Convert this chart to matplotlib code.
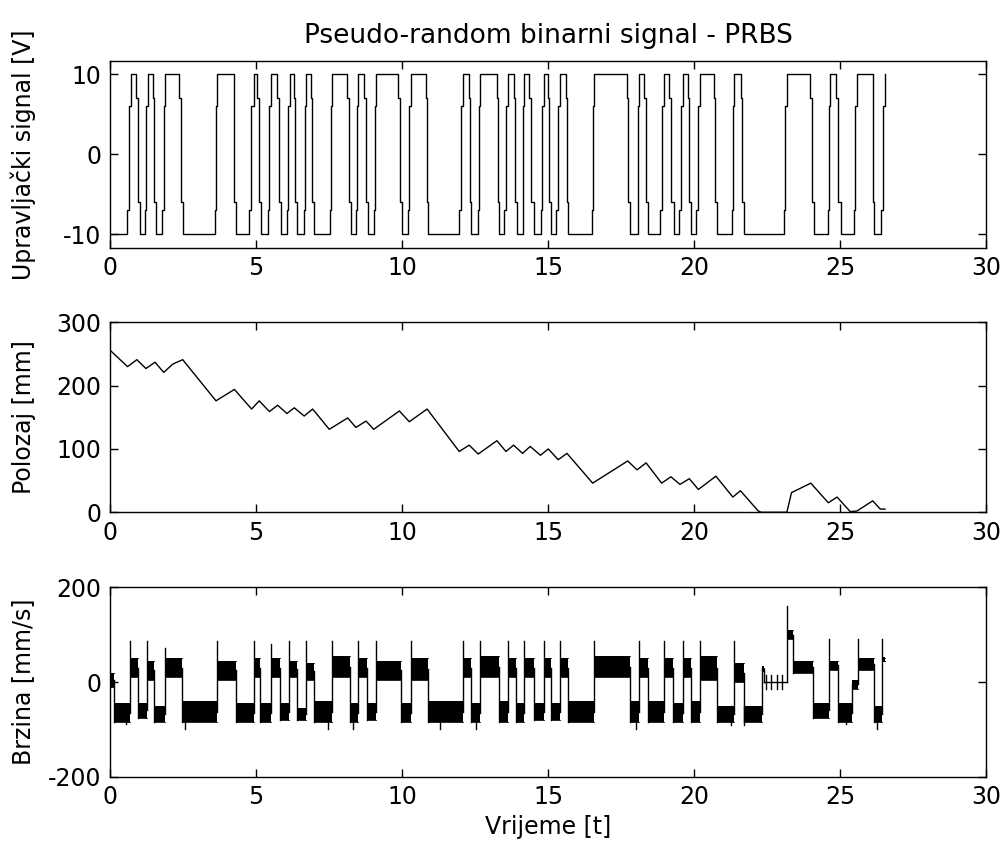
import matplotlib
matplotlib.use("Agg")
import matplotlib.pyplot as plt
import numpy as np

plt.rcParams["font.family"] = ["DejaVu Sans"]
plt.rcParams["font.size"] = 17
plt.rcParams["axes.unicode_minus"] = False
plt.rcParams["hatch.linewidth"] = 1.0

# ── PRBS: edge start / end times (s), signal toggles between -10 and +10 ──
prbs_start_level = -10
prbs_edge_t0 = [0.58, 0.90, 1.20, 1.46, 1.79, 2.37, 3.61, 4.23, 4.75, 5.05,
                5.40, 5.72, 6.06, 6.29, 6.64, 6.88, 7.52, 8.12, 8.44, 8.71,
                9.05, 9.88, 10.20, 10.82, 11.96, 12.30, 12.61, 13.25, 13.50, 13.82,
                14.13, 14.36, 14.76, 14.99, 15.27, 15.62, 16.50, 17.70, 18.07, 18.30,
                18.84, 19.15, 19.50, 19.78, 20.07, 20.70, 21.29, 21.60, 23.09, 23.98,
                24.60, 24.86, 25.49, 26.12, 26.40]
prbs_edge_t1 = [0.72, 1.03, 1.29, 1.58, 1.90, 2.51, 3.68, 4.31, 4.94, 5.17,
                5.53, 5.86, 6.15, 6.42, 6.70, 6.99, 7.60, 8.25, 8.50, 8.82,
                9.12, 10.00, 10.30, 10.90, 12.10, 12.38, 12.68, 13.33, 13.62, 13.93,
                14.19, 14.53, 14.85, 15.10, 15.42, 15.70, 16.59, 17.82, 18.12, 18.41,
                18.98, 19.30, 19.64, 19.90, 20.22, 20.78, 21.38, 21.72, 23.18, 24.12,
                24.66, 25.03, 25.57, 26.17, 26.54]
t_end = 26.55

# ── Polozaj (mm) ──
pos_t = [0, 0.07, 0.6, 0.92, 1.23, 1.54, 1.84, 2.15, 2.49, 3.63, 4.26, 4.85, 5.11,
         5.46, 5.74, 6.06, 6.31, 6.65, 6.94, 7.51, 8.14, 8.42, 8.77, 9.03, 9.91,
         10.25, 10.86, 11.96, 12.3, 12.61, 13.25, 13.56, 13.82, 14.13, 14.39, 14.74,
         15.01, 15.35, 15.65, 16.53, 17.73, 18.05, 18.36, 18.89, 19.21, 19.52, 19.84,
         20.15, 20.75, 21.33, 21.59, 22.2, 22.3, 23.18, 23.34, 24.0, 24.6, 24.9,
         25.35, 25.58, 26.12, 26.38, 26.54]
pos_y = [256, 253, 230, 241, 227, 237, 221, 234, 241, 176, 194, 163, 176,
         159, 169, 156, 165, 152, 163, 131, 149, 134, 144, 131, 160,
         143, 163, 96, 106, 92, 113, 96, 106, 93, 104, 90,
         100, 83, 93, 46, 81, 67, 78, 46, 56, 44, 53,
         36, 57, 24, 34, 2, 0, 0, 31, 46, 15, 24,
         1, 2, 18, 5, 5]

# ── Brzina (mm/s): segments with jitter band lo..hi and a peak at segment start ──
vel_t = [0.00, 0.15, 0.70, 0.97, 1.27, 1.52, 1.87, 2.47, 3.67, 4.30,
         4.92, 5.14, 5.52, 5.82, 6.14, 6.40, 6.70, 6.97, 7.59, 8.22,
         8.50, 8.80, 9.12, 9.97, 10.30, 10.89, 12.10, 12.38, 12.68, 13.32,
         13.62, 13.92, 14.19, 14.52, 14.85, 15.09, 15.42, 15.70, 16.59, 17.81,
         18.12, 18.41, 18.97, 19.29, 19.64, 19.89, 20.22, 20.78, 21.38, 21.72,
         22.32, 22.40, 23.20, 23.40, 24.07, 24.62, 24.94, 25.40, 25.62, 26.17,
         26.44]
vel_lo = [-10, -85, 10, -75, 5, -85, 10, -85, 5, -85,
          10, -85, 10, -80, 10, -80, 5, -85, 10, -85,
          10, -80, 5, -85, 5, -85, 10, -85, 10, -85,
          10, -85, 10, -80, 10, -80, 10, -85, 10, -85,
          10, -85, 10, -85, 10, -85, 5, -85, 0, -85,
          25, 0, 90, 20, -75, 25, -85, -15, 25, -85,
          45]
vel_hi = [20, -45, 50, -45, 45, -50, 50, -40, 45, -45,
          50, -45, 50, -45, 45, -55, 40, -40, 55, -45,
          50, -45, 45, -45, 50, -40, 50, -45, 55, -40,
          50, -45, 50, -45, 50, -45, 50, -40, 55, -40,
          50, -40, 50, -45, 50, -40, 55, -50, 40, -50,
          30, 0, 110, 45, -45, 45, -45, 5, 50, -50,
          50]
vel_pk = [15, np.nan, 86, np.nan, 86, np.nan, 72, np.nan, 86, np.nan,
          86, np.nan, 79, np.nan, 86, np.nan, 86, np.nan, 86, np.nan,
          86, np.nan, 86, np.nan, 86, np.nan, 86, np.nan, 86, np.nan,
          86, np.nan, 86, np.nan, 86, np.nan, 86, np.nan, 86, np.nan,
          86, np.nan, 86, np.nan, 86, np.nan, 86, np.nan, 86, np.nan,
          30, np.nan, 160, 72, np.nan, 90, np.nan, np.nan, 90, np.nan,
          90]
vel_dn_t = [0.55, 2.58, 7.45, 8.33, 11.31, 12.53, 18.01, 21.27, 21.70, 25.20, 26.25]
vel_dn_v = [-88, -100, -100, -100, -100, -100, -100, -90, -90, -88, -100]
vel_tick_t = [22.47, 22.64, 22.83, 23.01]

LW = 1.0
K = "black"

fig = plt.figure(figsize=(10, 8.46), dpi=100)
fig.patch.set_facecolor("white")

L, W = 0.11, 0.876
ax1 = fig.add_axes([L, 0.707, W, 0.221])
ax2 = fig.add_axes([L, 0.3945, W, 0.2245])
ax3 = fig.add_axes([L, 0.0816, W, 0.2245])


def style(ax):
    for s in ax.spines.values():
        s.set_linewidth(1.0)
    ax.tick_params(direction="in", top=True, right=True, length=6, width=1.0,
                   pad=6, labelsize=17)
    ax.set_xlim(0, 30)
    ax.set_xticks([0, 5, 10, 15, 20, 25, 30])


# ── PRBS ──
xs, ys = [0], [prbs_start_level]
lev = prbs_start_level
for t0, t1 in zip(prbs_edge_t0, prbs_edge_t1):
    new = -lev
    tm = t0 + 0.4 * (t1 - t0)
    m1 = lev + 0.15 * (new - lev)
    m2 = lev + 0.8 * (new - lev)
    xs += [t0, t0, tm, tm, t1, t1]
    ys += [lev, m1, m1, m2, m2, new]
    lev = new
xs.append(t_end)
ys.append(lev)
ax1.plot(xs, ys, color=K, lw=LW)
style(ax1)
ax1.set_ylim(-11.7, 11.7)
ax1.set_yticks([-10, 0, 10])
ax1.set_ylabel("Upravljački signal [V]")
ax1.set_title("Pseudo-random binarni signal - PRBS", fontsize=19, pad=13)

# ── Polozaj ──
ax2.plot(pos_t, pos_y, color=K, lw=LW)
style(ax2)
ax2.set_ylim(0, 300)
ax2.set_yticks([0, 100, 200, 300])
ax2.set_ylabel("Polozaj [mm]")

# ── Brzina ──
ends = vel_t[1:] + [t_end]
prev = 0.0
for t0, t1, lo, hi, pk in zip(vel_t, ends, vel_lo, vel_hi, vel_pk):
    mid = 0.5 * (lo + hi)
    top = pk if not np.isnan(pk) else mid
    ax3.plot([t0, t0], [min(prev, top, lo), max(prev, top)], color=K, lw=LW)
    if hi > lo:
        # jitter band: dense comb over the whole range, solid core inside
        ax3.fill_between([t0, t1], lo, hi, facecolor="white", edgecolor=K,
                         hatch="|" * 28, lw=0)
        ax3.fill_between([t0, t1], lo + 8, hi - 8, color=K, lw=0)
        ax3.plot([t0, t1], [hi, hi], color=K, lw=0.6)
        ax3.plot([t0, t1], [lo, lo], color=K, lw=0.6)
    else:
        ax3.plot([t0, t1], [lo, lo], color=K, lw=LW)
    prev = mid
for t, v in zip(vel_dn_t, vel_dn_v):
    ax3.plot([t, t], [v, v + 40], color=K, lw=LW)
for t in vel_tick_t:
    ax3.plot([t, t], [-15, 15], color=K, lw=LW)
style(ax3)
ax3.set_ylim(-200, 200)
ax3.set_yticks([-200, 0, 200])
ax3.set_ylabel("Brzina [mm/s]")
ax3.set_xlabel("Vrijeme [t]", labelpad=4)

for ax in (ax1, ax2, ax3):
    ax.yaxis.set_label_coords(-0.085, 0.5)

fig.savefig("out.png", dpi=100, facecolor="white")
